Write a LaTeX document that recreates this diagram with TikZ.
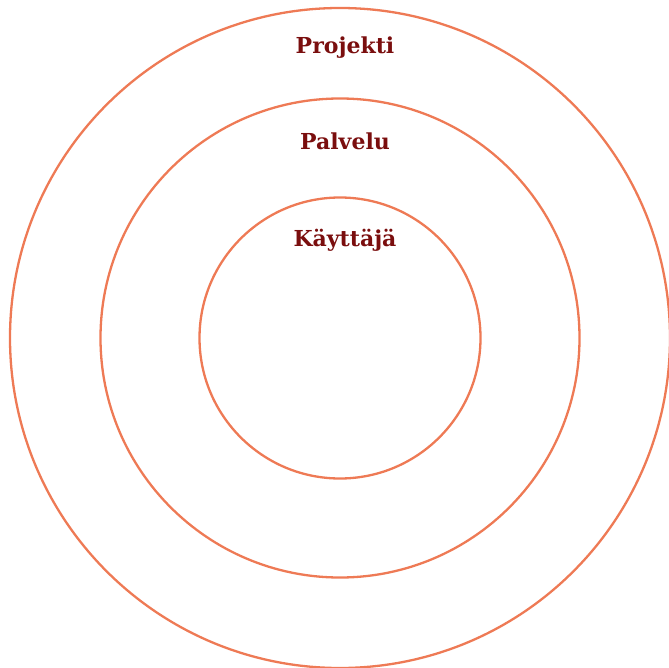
\documentclass[tikz,border=0pt]{standalone}
\usepackage{fontspec}
\setmainfont{DejaVu Serif}
\definecolor{ring}{HTML}{EE7A55}
\definecolor{lab}{HTML}{7A0E0E}
\begin{document}
\begin{tikzpicture}[x=1pt,y=-1pt,
  ringc/.style={draw=ring,line width=2.3pt},
  lbl/.style={text=lab,font=\bfseries\fontsize{22}{26}\selectfont,inner sep=0pt}]
\useasboundingbox (0,0) rectangle (668,668);
\node[ringc,circle,minimum size=660pt,inner sep=0pt] (outer) at (340,338) {};
\node[ringc,circle,minimum size=479pt,inner sep=0pt] (middle) at (340,338) {};
\node[ringc,circle,minimum size=281pt,inner sep=0pt] (inner) at (340,338) {};
\node[lbl] (projekti) at (345,48) {Projekti};
\node[lbl] (palvelu) at (345,141) {Palvelu};
\node[lbl] (kayttaja) at (345,240) {Käyttäjä};
\end{tikzpicture}
\end{document}
